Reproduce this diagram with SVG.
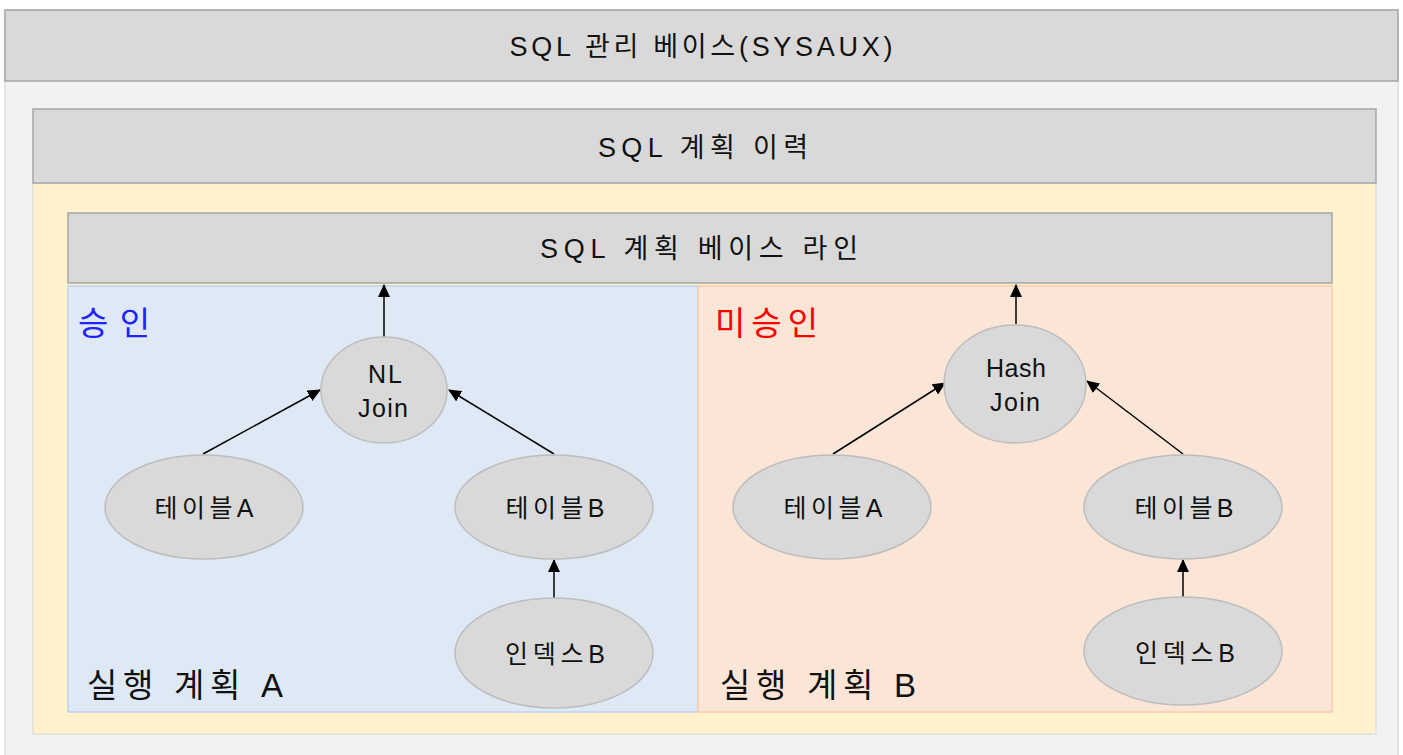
<svg xmlns="http://www.w3.org/2000/svg" width="1403" height="755" viewBox="0 0 1403 755">
<defs>
<style>
text{font-family:"Liberation Sans","Noto Sans CJK KR",sans-serif;fill:#111;}
.hdr{fill:#d9d9d9;stroke:#a6a6a6;stroke-width:1.5;}
.h{font-size:27px;text-anchor:middle;}
.n{fill:#d9d9d9;stroke:#bdbdbd;stroke-width:1.5;}
.nt{font-size:25px;text-anchor:middle;}
.big{font-size:33px;}
.e{stroke:#000;stroke-width:1.5;fill:none;marker-end:url(#ah);}
</style>
<marker id="ah" markerWidth="13" markerHeight="12" refX="12" refY="6" orient="auto" markerUnits="userSpaceOnUse"><path d="M0,0 L13,6 L0,12 Z" fill="#000"/></marker>
</defs>
<rect x="5" y="10" width="1393" height="760" fill="#f2f2f2" stroke="#d0d0d0"/>
<g id="sysaux"><rect class="hdr" x="5" y="10" width="1393" height="71"/><text class="h" x="701" y="56" textLength="383" lengthAdjust="spacing">SQL 관리 베이스(SYSAUX)</text></g>
<rect x="33" y="183" width="1343" height="551" fill="#fff2cc" stroke="#d6d6d6"/>
<g id="history"><rect class="hdr" x="33" y="109" width="1343" height="74"/><text class="h" x="703" y="157" textLength="210" lengthAdjust="spacing">SQL 계획 이력</text></g>
<g id="baseline"><rect class="hdr" x="68" y="213" width="1264" height="70"/><text class="h" x="699" y="258" textLength="318" lengthAdjust="spacing">SQL 계획 베이스 라인</text></g>
<g id="planA"><rect x="68" y="286" width="630" height="426" fill="#dee9f5" stroke="#bcd4ee" stroke-width="1.5"/>
<text class="big" x="78" y="335" textLength="72" lengthAdjust="spacing" style="fill:#2222ff">승인</text>
<text class="big" x="87" y="697" textLength="196" lengthAdjust="spacing">실행 계획 A</text></g>
<g id="planB"><rect x="698" y="286" width="634" height="426" fill="#fbe5d6" stroke="#f8cbad" stroke-width="1.5"/>
<text class="big" x="715" y="335" textLength="103" lengthAdjust="spacing" style="fill:#ff0000">미승인</text>
<text class="big" x="720" y="697" textLength="196" lengthAdjust="spacing">실행 계획 B</text></g>
<g id="connectors">
<line class="e" x1="384" y1="337" x2="384" y2="285"/>
<line class="e" x1="203" y1="454" x2="320" y2="390"/>
<line class="e" x1="554" y1="454" x2="449" y2="390"/>
<line class="e" x1="554" y1="598" x2="554" y2="560"/>
<line class="e" x1="1016" y1="324" x2="1016" y2="285"/>
<line class="e" x1="833" y1="454" x2="945" y2="383"/>
<line class="e" x1="1183" y1="454" x2="1087" y2="381"/>
<line class="e" x1="1183" y1="598" x2="1183" y2="560"/>
</g>
<g id="nljoin"><ellipse class="n" cx="384" cy="390" rx="63" ry="53"/><text class="nt" x="385" y="383" textLength="34" lengthAdjust="spacing">NL</text><text class="nt" x="383" y="417" textLength="50" lengthAdjust="spacing">Join</text></g>
<g id="tableA1"><ellipse class="n" cx="204" cy="507" rx="99" ry="52"/><text class="nt" x="204" y="517" textLength="99" lengthAdjust="spacing">테이블A</text></g>
<g id="tableB1"><ellipse class="n" cx="554" cy="507" rx="99" ry="52"/><text class="nt" x="555" y="517" textLength="99" lengthAdjust="spacing">테이블B</text></g>
<g id="indexB1"><ellipse class="n" cx="554" cy="653" rx="99" ry="55"/><text class="nt" x="555" y="663" textLength="100" lengthAdjust="spacing">인덱스B</text></g>
<g id="hashjoin"><ellipse class="n" cx="1015" cy="384" rx="71" ry="59"/><text class="nt" x="1016" y="377" textLength="60" lengthAdjust="spacing">Hash</text><text class="nt" x="1015" y="411" textLength="50" lengthAdjust="spacing">Join</text></g>
<g id="tableA2"><ellipse class="n" cx="832" cy="507" rx="99" ry="52"/><text class="nt" x="833" y="517" textLength="99" lengthAdjust="spacing">테이블A</text></g>
<g id="tableB2"><ellipse class="n" cx="1183" cy="507" rx="99" ry="52"/><text class="nt" x="1184" y="517" textLength="99" lengthAdjust="spacing">테이블B</text></g>
<g id="indexB2"><ellipse class="n" cx="1183" cy="651" rx="99" ry="54"/><text class="nt" x="1185" y="662" textLength="100" lengthAdjust="spacing">인덱스B</text></g>
</svg>
